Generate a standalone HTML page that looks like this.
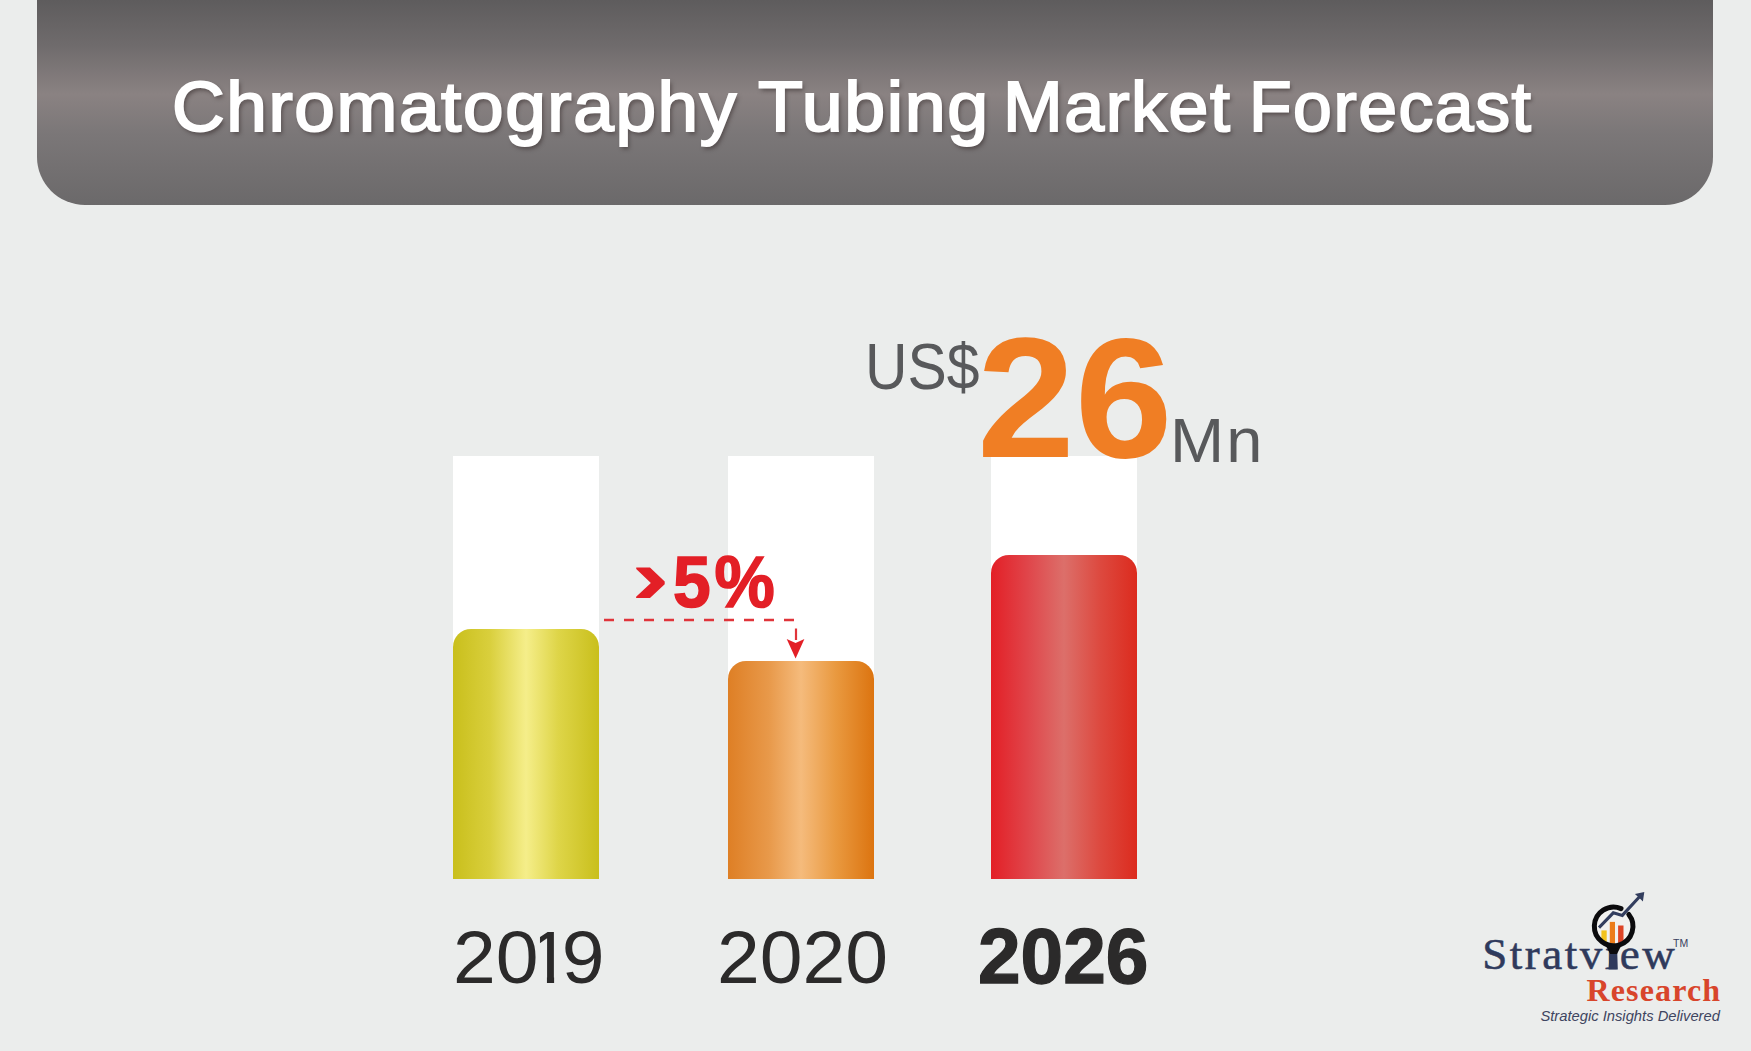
<!DOCTYPE html>
<html lang="en">
<head>
<meta charset="utf-8">
<title>Chromatography Tubing Market Forecast</title>
<style>
  html, body { margin: 0; padding: 0; }
  body {
    width: 1751px; height: 1051px; overflow: hidden; position: relative;
    background: #ebedec;
    font-family: "Liberation Sans", sans-serif;
  }
  .abs { position: absolute; white-space: nowrap; line-height: 1; }

  /* header banner */
  #banner {
    position: absolute; left: 37px; top: 0; width: 1676px; height: 205px;
    border-radius: 0 0 48px 48px;
    background: linear-gradient(to bottom, #5e5c5d 0%, #6f6b6c 22%, #8a8282 46%, #7b7778 65%, #6b696a 100%);
  }
  #title { left: 0; top: 72px; width: 1751px; height: 70px; }
  #title span {
    position: absolute; top: 0; font-size: 70px; color: #fff; letter-spacing: 1.5px; line-height: 1;
    -webkit-text-stroke: 2px #fff;
    text-shadow: 2px 2.5px 4px rgba(45,35,35,0.55);
    transform-origin: left top;
  }
  #w1 { left: 172.3px; transform: scaleX(1.0432); }
  #w2 { left: 758.0px; transform: scaleX(1.051); }
  #w3 { left: 1003.4px; transform: scaleX(1.0244); }
  #w4 { left: 1248.7px; transform: scaleX(0.9968); }

  /* bars */
  .track { position: absolute; top: 456px; width: 146px; height: 423px; background: #fff; }
  .fill  { position: absolute; left: 0; right: 0; bottom: 0; border-radius: 18px 18px 0 0; }
  #t1 { left: 453px; }
  #t2 { left: 728px; }
  #t3 { left: 991px; }
  #f1 { top: 173px; background: linear-gradient(to right, #c9bf1c 0%, #d9cf3c 25%, #f5ee8a 50%, #ded548 72%, #c9bf1c 100%); }
  #f2 { top: 205px; background: linear-gradient(to right, #de7f25 0%, #e8994a 28%, #f5bb7c 50%, #e9993f 74%, #dc7410 100%); }
  #f3 { top: 99px;  background: linear-gradient(to right, #e31f26 0%, #e0454a 25%, #dc6f6a 50%, #dd4a40 74%, #dc2b1e 100%); }

  /* year labels */
  .year { font-size: 75px; color: #2b2a2a; transform-origin: left top; transform: scaleX(1.025); }
  #y1 { left: 453px; top: 920px; }
  #y1 span { display: inline-block; margin-left: -10.4px; margin-right: -8.6px; clip-path: polygon(11.8px 0, 25.7px 0, 25.7px 75px, 18.6px 75px, 18.6px 50px, 11.8px 50px); }
  #y2 { left: 717px; top: 920px; }
  #y3 { left: 978px; top: 918px; font-size: 77px; font-weight: bold; -webkit-text-stroke: 1.3px #2b2a2a; transform: scaleX(0.995); }

  /* value */
  #usd { left: 865px; top: 335px; font-size: 64px; color: #58595b; transform-origin: left top; transform: scaleX(0.92); }
  #big { left: 977px; top: 313px; font-size: 170px; font-weight: bold; color: #f07e24; transform-origin: left top; transform: scaleX(1.035); }
  #mn  { left: 1170px; top: 409px; font-size: 62.5px; color: #58595b; transform-origin: left top; letter-spacing: 2px; transform: scaleX(1.04); }

  /* >5% */
  #pct { left: 672.5px; top: 545.5px; font-size: 72px; font-weight: bold; color: #e31f26; -webkit-text-stroke: 1.6px #e31f26; transform-origin: left top; transform: scaleX(0.94); letter-spacing: 4px; }
</style>
</head>
<body>

<div id="banner"></div>
<div id="title" class="abs"><span id="w1">Chromatography</span> <span id="w2">Tubing</span> <span id="w3">Market</span> <span id="w4">Forecast</span></div>

<div id="t1" class="track"><div id="f1" class="fill"></div></div>
<div id="t2" class="track"><div id="f2" class="fill"></div></div>
<div id="t3" class="track"><div id="f3" class="fill"></div></div>

<div id="usd" class="abs">US$</div>
<div id="big" class="abs">26</div>
<div id="mn"  class="abs">Mn</div>

<div id="pct" class="abs">5%</div>

<svg class="abs" style="left:0;top:0" width="1751" height="1051" viewBox="0 0 1751 1051">
  <!-- chevron glyph (real text) in front of 5% -->
  <text transform="translate(630.7,603.3) scale(1.5,1)" font-family="Liberation Sans, sans-serif" font-weight="bold" font-size="78.7" fill="#e31f26">›</text>
  <!-- dashed connector -->
  <line x1="604" y1="620" x2="794" y2="620" stroke="#e0343a" stroke-width="2.4" stroke-dasharray="10 10"/>
  <line x1="796" y1="628.5" x2="796" y2="640" stroke="#e0343a" stroke-width="2.2"/>
  <polygon points="786.7,639 795.6,643 804.4,639 795.6,658.5" fill="#e31f26"/>
</svg>

<div id="y1" class="abs year">20<span>1</span>9</div>
<div id="y2" class="abs year">2020</div>
<div id="y3" class="abs year">2026</div>

<!-- logo -->
<svg class="abs" style="left:0;top:0" width="1751" height="1051" viewBox="0 0 1751 1051">
  <defs>
    <clipPath id="lens"><circle cx="1613.7" cy="926.5" r="17.2"/></clipPath>
  </defs>
  <text id="lg1" x="1482.3" y="969" font-family="Liberation Serif, serif" font-size="45" letter-spacing="2.5" fill="#2f3a5c" stroke="#2f3a5c" stroke-width="0.55">Stratview</text>
  <text id="lg2" x="1673" y="946.8" font-family="Liberation Sans, sans-serif" font-size="10.5" fill="#3a4160">TM</text>
  <text id="lg3" x="1586.5" y="1000.6" font-family="Liberation Serif, serif" font-weight="bold" font-size="32" letter-spacing="1.15" fill="#d8452b">Research</text>
  <text id="lg4" x="1540.4" y="1021.4" font-family="Liberation Sans, sans-serif" font-style="italic" font-size="14.75" fill="#3e4560">Strategic Insights Delivered</text>
  <!-- magnifier -->
  <circle cx="1613.7" cy="926.5" r="17.5" fill="#f1f1ef"/>
  <g clip-path="url(#lens)">
    <rect x="1601.4" y="930.4" width="5.3" height="16" fill="#f2c21d"/>
    <rect x="1609.8" y="921.9" width="5.2" height="24" fill="#ec7c1a"/>
    <rect x="1618.1" y="925.5" width="5.4" height="20" fill="#dd4426"/>
  </g>
  <polygon points="1610.2,945 1617,945 1617.8,969.4 1608.6,969.4" fill="#2f3a5c"/>
  <polygon points="1605.5,945 1621.5,945 1617,954 1610.2,954" fill="#0b0b0d"/>
  <path d="M 1628.8 914.5 A 19.3 19.3 0 1 1 1621.0 908.6" fill="none" stroke="#0b0b0d" stroke-width="5" stroke-linecap="round"/>
  <polyline points="1599,927.6 1613.3,912.8 1622.3,915.4 1639.5,896.7" fill="none" stroke="#333e5e" stroke-width="3.1" stroke-linejoin="miter"/>
  <polygon points="1644.3,891.9 1642.9,901.4 1639.4,897.9 1634.9,894" fill="#333e5e"/>
</svg>

</body>
</html>
